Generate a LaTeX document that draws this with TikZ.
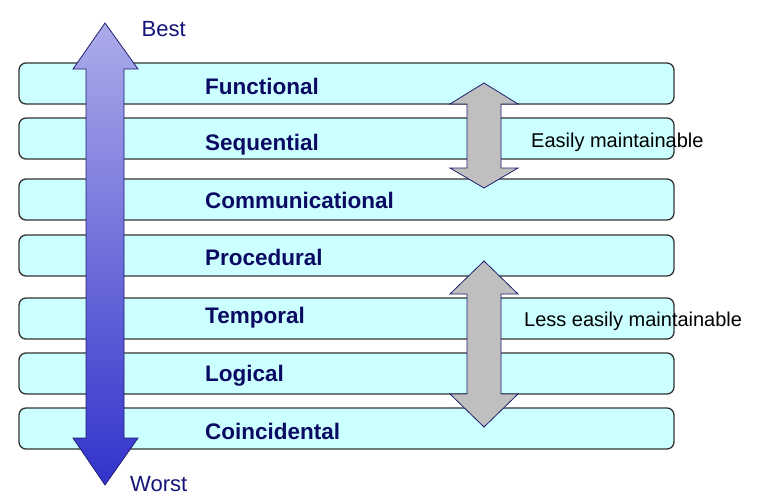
\documentclass[tikz,border=0pt]{standalone}
\usepackage{fontspec}
\setmainfont{Liberation Sans}
\begin{document}
\begin{tikzpicture}[x=1pt,y=-1pt,
  bar/.style={draw=black!80, line width=1.3pt, fill=cyanpale, rounded corners=7pt,
    minimum width=655pt, minimum height=41pt, inner sep=0pt},
  lbl/.style={anchor=base west, inner sep=0pt, text=navydeep,
    font=\fontsize{22.5}{26}\selectfont\bfseries},
  note/.style={anchor=base west, inner sep=0pt, text=black,
    font=\fontsize{20}{24}\selectfont},
  endlbl/.style={anchor=base west, inner sep=0pt, text=navyend,
    font=\fontsize{22}{26}\selectfont},
  grayarrow/.style={draw=navyedge, line width=0.8pt, fill=black!25, line join=miter}]
\definecolor{cyanpale}{RGB}{204,255,255}
\definecolor{navydeep}{RGB}{10,10,100}
\definecolor{navyend}{RGB}{20,20,120}
\definecolor{navyedge}{RGB}{30,30,110}
\definecolor{lavtop}{RGB}{172,172,234}
\definecolor{bluebot}{RGB}{50,50,204}

\useasboundingbox (0,0) rectangle (765,503);

% the seven levels, best at the top
\node[bar] (b1) at (346.5,83.5)  {};
\node[bar] (b2) at (346.5,138.5) {};
\node[bar] (b3) at (346.5,199.5) {};
\node[bar] (b4) at (346.5,255.5) {};
\node[bar] (b5) at (346.5,318.5) {};
\node[bar] (b6) at (346.5,373.5) {};
\node[bar] (b7) at (346.5,428.5) {};

\node[lbl] (t1) at (205,94.5)  {Functional};
\node[lbl] (t2) at (205,150.5) {Sequential};
\node[lbl] (t3) at (205,208)   {Communicational};
\node[lbl] (t4) at (205,265)   {Procedural};
\node[lbl] (t5) at (205,323.5) {Temporal};
\node[lbl] (t6) at (205,381.5) {Logical};
\node[lbl] (t7) at (205,439)   {Coincidental};

% big double arrow from best to worst
\shade[top color=lavtop, bottom color=bluebot, draw=navyedge, line width=0.8pt, line join=miter]
  (86,69) -- (73,69) -- (105,23) -- (138,69) -- (124,69) -- (124,438)
  -- (138,438) -- (105,485) -- (73,438) -- (86,438) -- cycle;

\node[endlbl] (best)  at (141.5,36.7)  {Best};
\node[endlbl] (worst) at (130,491.7) {Worst};

% grey double arrows for maintainability
\draw[grayarrow] (467,104) -- (450,104) -- (484,83) -- (518,104) -- (501,104)
  -- (501,168) -- (518,168) -- (484,188) -- (450,168) -- (467,168) -- cycle;
\draw[grayarrow] (467,294) -- (450,294) -- (484,261) -- (518,294) -- (501,294)
  -- (501,394) -- (518,394) -- (484,427) -- (450,394) -- (467,394) -- cycle;

\node[note] (easy) at (531,147.5) {Easily maintainable};
\node[note] (less) at (524,326) {Less easily maintainable};
\end{tikzpicture}
\end{document}
